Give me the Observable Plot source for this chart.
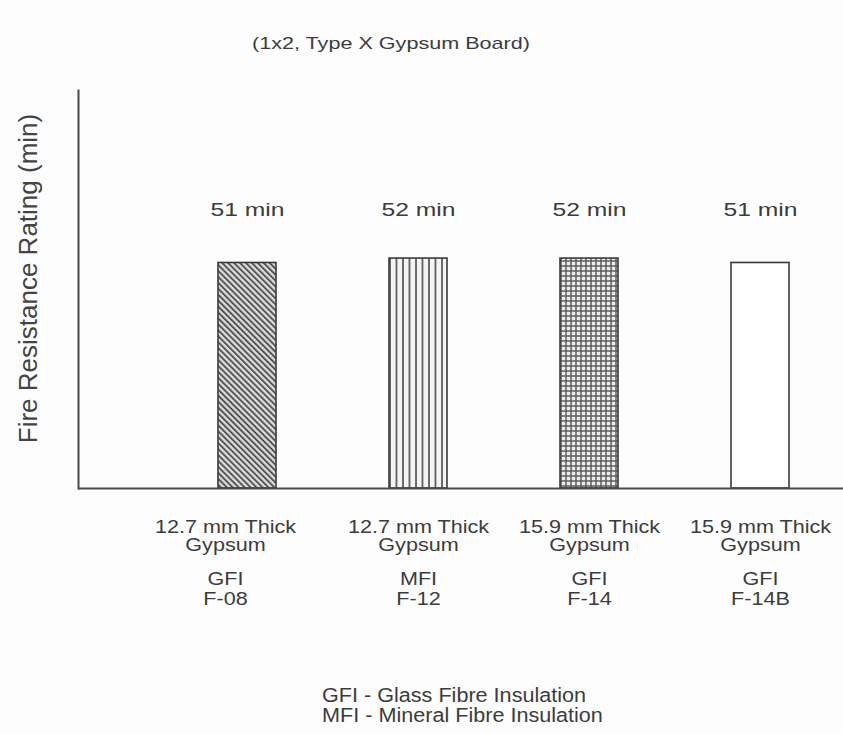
<!DOCTYPE html>
<html>
<head>
<meta charset="utf-8">
<script src="https://cdn.jsdelivr.net/npm/d3@7"></script>
<script src="https://cdn.jsdelivr.net/npm/@observablehq/plot@0.6"></script>
<style>
  html, body { margin: 0; padding: 0; background: #fcfdfc; }
  body { width: 843px; height: 734px; overflow: hidden; font-family: "Liberation Sans", Arial, sans-serif; color: #3c3c3c; }
  #title { position: relative; height: 60px; }
  #title span { position: absolute; left: 391px; top: 35px; font-size: 17px; line-height: 17px; white-space: nowrap; transform: translateX(-50%) scaleX(1.27); }
  #chart svg { display: block; }
  #note { margin-left: 322px; margin-top: 5px; font-size: 20px; line-height: 20px; transform: scaleX(1.08); transform-origin: left top; white-space: nowrap; }
</style>
</head>
<body>
<div id="title"><span>(1x2, Type X Gypsum Board)</span></div>
<div id="chart"></div>
<div id="note"><div>GFI - Glass Fibre Insulation</div><div>MFI - Mineral Fibre Insulation</div></div>
<script>
// ---- data ----
const codes = ["F-08", "F-12", "F-14", "F-14B"];
const ratings = [51, 52, 52, 51];
const thicknesses = ["12.7 mm Thick", "12.7 mm Thick", "15.9 mm Thick", "15.9 mm Thick"];
const boards = ["Gypsum", "Gypsum", "Gypsum", "Gypsum"];
const insulations = ["GFI", "MFI", "GFI", "GFI"];
const yLabel = "Fire Resistance Rating (min)";

const rows = codes.map((c, i) => ({
  code: c, rating: ratings[i], thickness: thicknesses[i], board: boards[i], insulation: insulations[i]
}));

// bar fills (patterns defined below)
const fillFor = {"F-08": "url(#hatchDiag)", "F-12": "url(#hatchVert)", "F-14": "url(#hatchGrid)", "F-14B": "white"};
const ink = "#3c3c3c";
const isFirst = d => d.code === codes[0];
const notFirst = d => d.code !== codes[0];
const upper = d => `${d.thickness}\n${d.board}`;
const lower = d => `${d.insulation}\n${d.code}`;
const tickStyle = {x: "code", frameAnchor: "bottom", lineAnchor: "top", fontSize: 18, fill: ink};

const svg = Plot.plot({
  width: 843,
  height: 620,
  marginLeft: 78,
  marginRight: 0,
  marginTop: 30,
  marginBottom: 192,
  style: {fontFamily: "Liberation Sans, Arial, sans-serif", background: "transparent", color: ink},
  x: {type: "band", domain: codes, range: [162, 846], paddingInner: 0.66, paddingOuter: 0.33, axis: null},
  y: {domain: [0, 90], axis: null},
  color: {type: "identity"},
  marks: [
    Plot.barY(rows, {x: "code", y: "rating", fill: d => fillFor[d.code], stroke: "#3a3a3a", strokeWidth: 1.6}),
    Plot.text(rows, {x: "code", text: d => `${d.rating} min`, frameAnchor: "top", lineAnchor: "bottom", dy: 125, fontSize: 19, fill: ink}),
    Plot.text(rows, {...tickStyle, filter: isFirst, text: upper, dx: -22, dy: 32, lineHeight: 1.0}),
    Plot.text(rows, {...tickStyle, filter: notFirst, text: upper, dy: 32, lineHeight: 1.0}),
    Plot.text(rows, {...tickStyle, filter: isFirst, text: lower, dx: -22, dy: 82, lineHeight: 1.11}),
    Plot.text(rows, {...tickStyle, filter: notFirst, text: lower, dy: 82, lineHeight: 1.11}),
    Plot.text([yLabel], {text: d => d, frameAnchor: "left", textAnchor: "middle", lineAnchor: "middle", rotate: -90, dx: -50, dy: -11, fontSize: 26, fill: "#444"}),
    Plot.frame({anchor: "left", stroke: "#4a4a4a", strokeWidth: 2}),
    Plot.ruleY([0], {stroke: "#4a4a4a", strokeWidth: 2})
  ]
});

// horizontal stretch of the scanned lettering
const stretch = [1.3, 1.2, 1.2, 1.2, 1.2, 1];
d3.select(svg).selectAll('g[aria-label="text"]').each(function(_, i) {
  const s = stretch[i] ?? 1;
  if (s === 1) return;
  d3.select(this).selectAll("text").each(function() {
    const t = this.getAttribute("transform") || "";
    this.setAttribute("transform", `${t} scale(${s},1)`);
  });
});

// pattern definitions
const defs = d3.select(svg).insert("defs", ":first-child");
const pd = defs.append("pattern").attr("id", "hatchDiag").attr("patternUnits", "userSpaceOnUse")
  .attr("width", 4.2).attr("height", 4.2).attr("patternTransform", "rotate(-45)");
pd.append("rect").attr("width", 4.2).attr("height", 4.2).attr("fill", "#dcdcdc");
pd.append("line").attr("x1", 1).attr("x2", 1).attr("y1", 0).attr("y2", 4.2).attr("stroke", "#4a4a4a").attr("stroke-width", 1.8);

const pv = defs.append("pattern").attr("id", "hatchVert").attr("patternUnits", "userSpaceOnUse")
  .attr("width", 6.5).attr("height", 10).attr("x", 389);
pv.append("rect").attr("width", 6.5).attr("height", 10).attr("fill", "#f4f4f4");
pv.append("line").attr("x1", 1).attr("x2", 1).attr("y1", 0).attr("y2", 10).attr("stroke", "#555").attr("stroke-width", 1.7);

const pg = defs.append("pattern").attr("id", "hatchGrid").attr("patternUnits", "userSpaceOnUse")
  .attr("width", 5).attr("height", 5);
pg.append("rect").attr("width", 5).attr("height", 5).attr("fill", "#ececec");
pg.append("line").attr("x1", 1).attr("x2", 1).attr("y1", 0).attr("y2", 5).attr("stroke", "#555").attr("stroke-width", 1.4);
pg.append("line").attr("x1", 0).attr("x2", 5).attr("y1", 1).attr("y2", 1).attr("stroke", "#555").attr("stroke-width", 1.4);

document.getElementById("chart").append(svg);
</script>
</body>
</html>
